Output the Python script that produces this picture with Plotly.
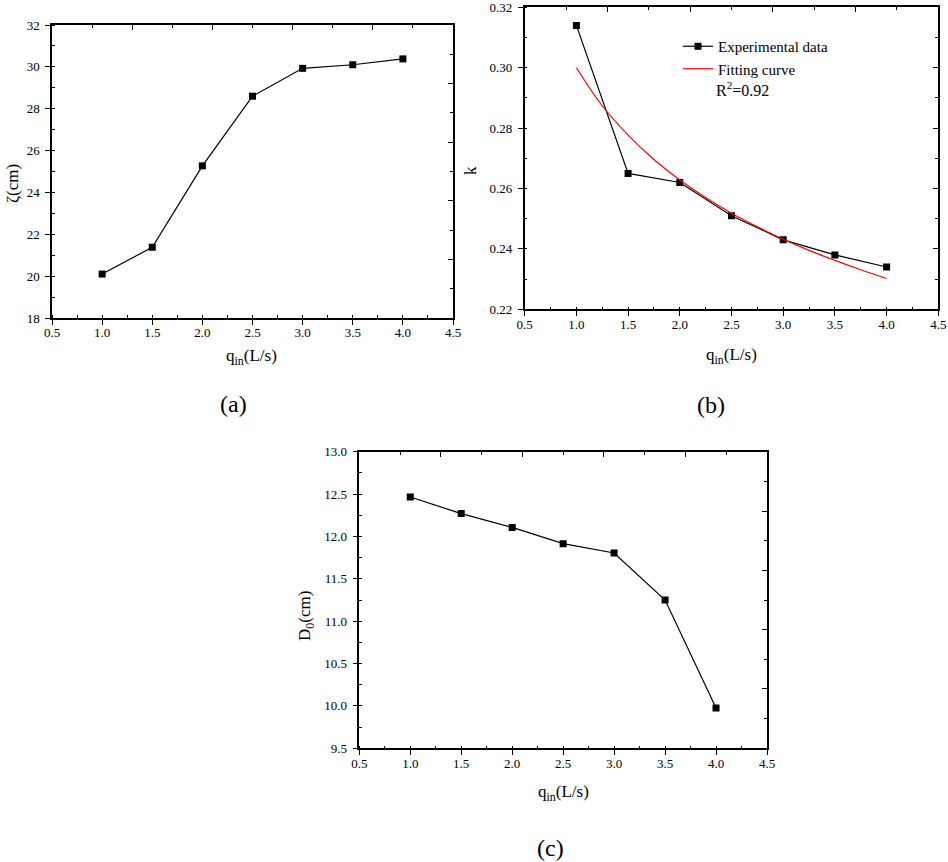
import plotly.graph_objects as go

# data
q_in = [1.0, 1.5, 2.0, 2.5, 3.0, 3.5, 4.0]
zeta_cm = [20.1, 21.38, 25.27, 28.6, 29.93, 30.1, 30.38]
k_exp = [0.314, 0.265, 0.262, 0.251, 0.243, 0.238, 0.234]
d0_cm = [12.465, 12.27, 12.107, 11.915, 11.805, 11.25, 9.975]

# red fitting curve
q_fit = [1.0, 1.25, 1.5, 1.75, 2.0, 2.25, 2.5, 2.75, 3.0, 3.25, 3.5, 3.75, 4.0]
k_fit = [0.300, 0.2874, 0.2777, 0.2696, 0.2628, 0.2570, 0.2518, 0.2473,
         0.2432, 0.2395, 0.2362, 0.2331, 0.2302]

W, H = 948, 862
SERIF = "Liberation Serif, Times New Roman, serif"
FONT = dict(family=SERIF, size=13, color="black")


def px(v):
    return v / W


def py(v):
    return 1 - v / H


def bottom_left(domain, rng, dtick, minor, fmt, anchor, standoff):
    return dict(
        domain=domain, range=rng, anchor=anchor, dtick=dtick, tick0=rng[0],
        tickformat=fmt, ticks="outside", ticklen=5, tickwidth=1.3,
        tickcolor="black", ticklabelstandoff=standoff,
        ticklabeloverflow="allow",
        minor=dict(dtick=minor, ticks="inside", ticklen=3, tickwidth=1.2,
                   tickcolor="black"),
        showline=True, linecolor="black", linewidth=1.5, mirror=True,
        showgrid=False, zeroline=False, tickfont=FONT, fixedrange=True,
        automargin=False,
    )


def frame(over, side, anchor):
    # top / right frame ticks: 10 divisions, pointing inwards
    return dict(
        overlaying=over, side=side, anchor=anchor, range=[0, 10],
        tickvals=[2, 4, 6, 8], ticks="inside", ticklen=5, tickwidth=1.3,
        tickcolor="black", showticklabels=False,
        minor=dict(tickvals=[1, 3, 5, 7, 9], ticks="inside", ticklen=3,
                   tickwidth=1.2, tickcolor="black"),
        showline=False, showgrid=False, zeroline=False, fixedrange=True,
        automargin=False,
    )


line_style = dict(color="black", width=1.2)
mark_style = dict(symbol="square", size=7, color="black")

fig = go.Figure()

fig.add_trace(go.Scatter(x=q_in, y=zeta_cm, mode="lines+markers",
                         line=line_style, marker=mark_style,
                         showlegend=False, xaxis="x", yaxis="y"))
fig.add_trace(go.Scatter(x=q_in, y=k_exp, mode="lines+markers",
                         name="Experimental data", line=line_style,
                         marker=mark_style, xaxis="x2", yaxis="y2"))
fig.add_trace(go.Scatter(x=q_fit, y=k_fit, mode="lines", name="Fitting curve",
                         line=dict(color="#ff0000", width=1.2, shape="spline"),
                         xaxis="x2", yaxis="y2"))
fig.add_trace(go.Scatter(x=q_in, y=d0_cm, mode="lines+markers",
                         line=line_style, marker=mark_style,
                         showlegend=False, xaxis="x3", yaxis="y3"))

# dummy traces so the frame axes get drawn
for i in (4, 5, 6):
    fig.add_trace(go.Scatter(x=[None], y=[None], xaxis=f"x{i}", yaxis=f"y{i}",
                             showlegend=False, hoverinfo="skip"))

xa = [px(52), px(453)]
ya = [py(318), py(25)]
xb = [px(524.7), px(938.3)]
yb = [py(309.3), py(7.3)]
xc = [px(359.3), px(767)]
yc = [py(748.3), py(451.7)]

fig.update_layout(
    template="none",
    width=W, height=H,
    margin=dict(l=0, r=0, t=0, b=0, autoexpand=False),
    paper_bgcolor="white", plot_bgcolor="white",
    font=dict(family=SERIF, color="black"),
    xaxis=bottom_left(xa, [0.5, 4.5], 0.5, 0.25, ".1f", "y", -3),
    yaxis=bottom_left(ya, [18, 32], 2, 1, "d", "x", 3),
    xaxis2=bottom_left(xb, [0.5, 4.5], 0.5, 0.25, ".1f", "y2", -3),
    yaxis2=bottom_left(yb, [0.22, 0.32], 0.02, 0.01, ".2f", "x2", 3),
    xaxis3=bottom_left(xc, [0.5, 4.5], 0.5, 0.25, ".1f", "y3", -3),
    yaxis3=bottom_left(yc, [9.5, 13.0], 0.5, 0.25, ".1f", "x3", 3),
    xaxis4=frame("x", "top", "y"),
    yaxis4=frame("y", "right", "x"),
    xaxis5=frame("x2", "top", "y2"),
    yaxis5=frame("y2", "right", "x2"),
    xaxis6=frame("x3", "top", "y3"),
    yaxis6=frame("y3", "right", "x3"),
    legend=dict(x=px(678), y=py(30), xanchor="left", yanchor="top",
                bgcolor="rgba(0,0,0,0)", font=dict(family=SERIF, size=15),
                tracegroupgap=0, borderwidth=0),
)

title_font = dict(family=SERIF, size=17, color="black")
cap_font = dict(family=SERIF, size=24, color="black")
xtitle = "q<sub>in</sub>(L/s)"

notes = [
    (252, 357, xtitle, 0, title_font),
    (731, 356, xtitle, 0, title_font),
    (563, 793, xtitle, 0, title_font),
    (13, 184, "ζ(cm)", -90, title_font),
    (470, 171, "k", -90, title_font),
    (306, 616, "D<sub>0</sub>(cm)", -90, title_font),
    (233, 404, "(a)", 0, cap_font),
    (711, 405, "(b)", 0, cap_font),
    (550, 848, "(c)", 0, cap_font),
    (714, 89, "R<sup>2</sup>=0.92", 0, dict(family=SERIF, size=16, color="black")),
]
for x, y, text, angle, f in notes:
    fig.add_annotation(x=px(x), y=py(y), xref="paper", yref="paper",
                       text=text, showarrow=False, textangle=angle, font=f,
                       xanchor="left" if text.startswith("R") else "center",
                       yanchor="middle")

# the page body has a default 8px margin; drop it so the figure sits at 0,0
fig.write_html("out.html", config={"displayModeBar": False},
               post_script="document.body.style.margin='0';")
